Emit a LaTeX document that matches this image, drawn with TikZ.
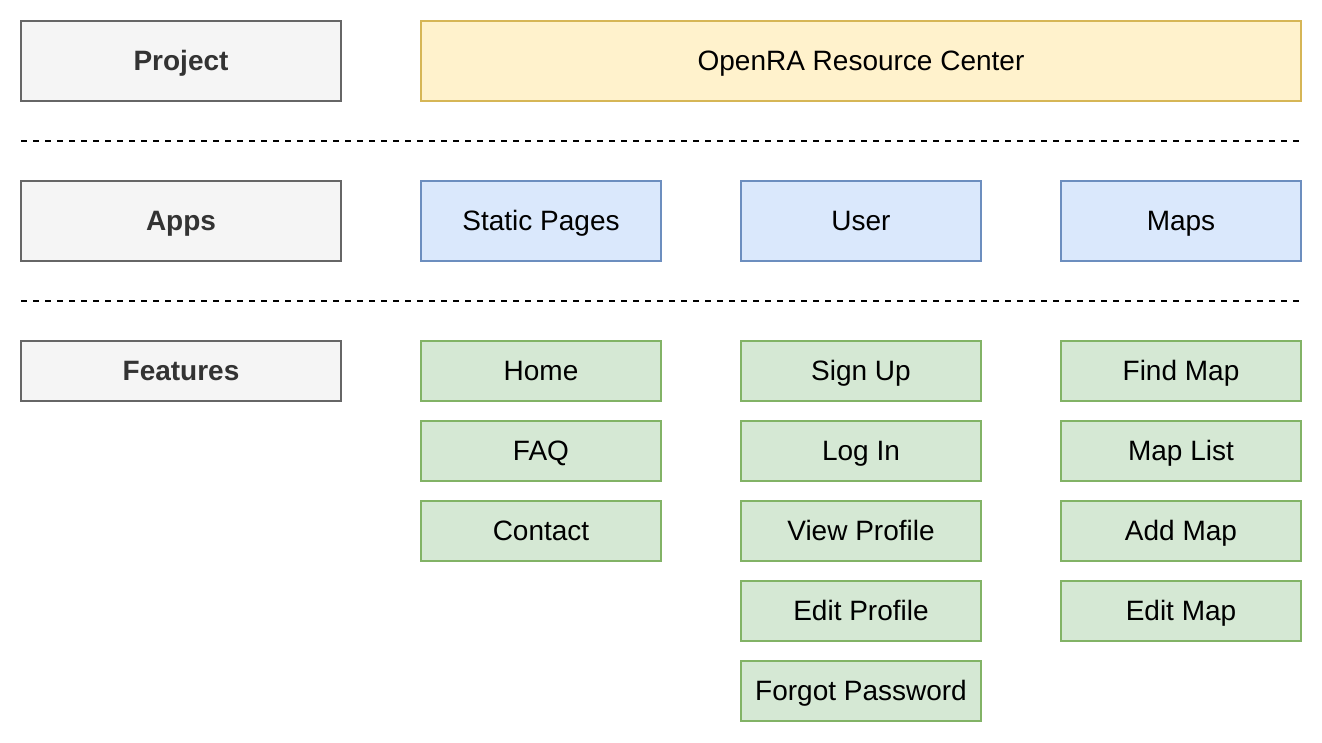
\documentclass[tikz,border=0pt]{standalone}
\usepackage{fontspec}
\setmainfont{Liberation Sans}
\begin{document}
\begin{tikzpicture}[x=1pt,y=-1pt,
  base/.style={draw, line width=2pt, minimum height=80pt, minimum width=320pt, font=\fontsize{28}{31}\selectfont, inner sep=0pt, text height=18pt, text depth=0pt, anchor=north west},
  graybox/.style={base, fill=grayfill, draw=graydraw, text=graytext, font=\fontsize{28}{31}\selectfont\bfseries},
  yellowbox/.style={base, fill=yellowfill, draw=yellowdraw, minimum width=880pt},
  bluebox/.style={base, fill=bluefill, draw=bluedraw, minimum width=240pt},
  greenbox/.style={base, fill=greenfill, draw=greendraw, minimum width=240pt, minimum height=60pt},
  sep/.style={line width=2pt, dash pattern=on 6pt off 6pt, draw=black}]
\definecolor{grayfill}{HTML}{F5F5F5}
\definecolor{graydraw}{HTML}{666666}
\definecolor{graytext}{HTML}{333333}
\definecolor{yellowfill}{HTML}{FFF2CC}
\definecolor{yellowdraw}{HTML}{D6B656}
\definecolor{bluefill}{HTML}{DAE8FC}
\definecolor{bluedraw}{HTML}{6C8EBF}
\definecolor{greenfill}{HTML}{D5E8D4}
\definecolor{greendraw}{HTML}{82B366}
\useasboundingbox (0,0) rectangle (1322,742);
\node[graybox] (project) at (20,20) {Project};
\node[yellowbox] (openra) at (420,20) {OpenRA Resource Center};
\coordinate (s1a) at (21,141);
\coordinate (s1b) at (1301,141);
\draw[sep] (s1a) -- (s1b);
\node[graybox] (apps) at (20,180) {Apps};
\node[bluebox] (static) at (420,180) {Static Pages};
\node[bluebox] (user) at (740,180) {User};
\node[bluebox] (maps) at (1060,180) {Maps};
\coordinate (s2a) at (21,301);
\coordinate (s2b) at (1301,301);
\draw[sep] (s2a) -- (s2b);
\node[graybox, minimum height=60pt] (features) at (20,340) {Features};
\node[greenbox] (home) at (420,340) {Home};
\node[greenbox] (faq) at (420,420) {FAQ};
\node[greenbox] (contact) at (420,500) {Contact};
\node[greenbox] (signup) at (740,340) {Sign Up};
\node[greenbox] (login) at (740,420) {Log In};
\node[greenbox] (view) at (740,500) {View Profile};
\node[greenbox] (edit) at (740,580) {Edit Profile};
\node[greenbox] (forgot) at (740,660) {Forgot Password};
\node[greenbox] (find) at (1060,340) {Find Map};
\node[greenbox] (list) at (1060,420) {Map List};
\node[greenbox] (add) at (1060,500) {Add Map};
\node[greenbox] (editmap) at (1060,580) {Edit Map};
\end{tikzpicture}
\end{document}
